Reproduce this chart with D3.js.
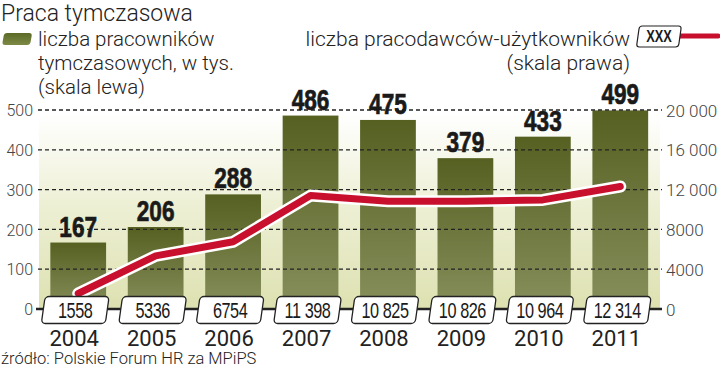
<!DOCTYPE html>
<html><head><meta charset="utf-8">
<script src="https://cdn.jsdelivr.net/npm/d3@7"></script>
<style>
html,body{margin:0;padding:0;background:#fff;}
text{font-family:Roboto,"Open Sans",sans-serif;}
</style></head>
<body><svg id="c" width="720" height="371"></svg>
<script>
const years = ["2004","2005","2006","2007","2008","2009","2010","2011"];
const workers = [167,206,288,486,475,379,433,499];
const employers = [1558,5336,6754,11398,10825,10826,10964,12314];
const employerLabels = ["1558","5336","6754","11 398","10 825","10 826","10 964","12 314"];
const leftTicks = [0,100,200,300,400,500];
const rightTicks = [0,4000,8000,12000,16000,20000];
const rightTickLabels = ["0","4000","8000","12 000","16 000","20 000"];

const svg = d3.select("#c");
const x = d3.scaleBand().domain(years).range([39.5, 659]).paddingInner(0.28).paddingOuter(0.14);
const yL = d3.scaleLinear().domain([0,500]).range([309,110]);
const yR = d3.scaleLinear().domain([0,20000]).range([309,110]);
const cx = d => x(d)+x.bandwidth()/2;

const defs = svg.append("defs");
const bg = defs.append("linearGradient").attr("id","bg").attr("x1",0).attr("y1",1).attr("x2",0).attr("y2",0);
bg.append("stop").attr("offset","0").attr("stop-color","#dde1b0");
bg.append("stop").attr("offset","0.55").attr("stop-color","#eef0d6");
bg.append("stop").attr("offset","1").attr("stop-color","#ffffff");
const bar = defs.append("linearGradient").attr("id","bar").attr("x1",0).attr("y1",1).attr("x2",0).attr("y2",0);
bar.append("stop").attr("offset","0").attr("stop-color","#878f5c");
bar.append("stop").attr("offset","1").attr("stop-color","#566021");
const sw = defs.append("linearGradient").attr("id","sw").attr("x1",0).attr("y1",1).attr("x2",0).attr("y2",0);
sw.append("stop").attr("offset","0").attr("stop-color","#7d8a45");
sw.append("stop").attr("offset","1").attr("stop-color","#5b6a28");

// background
svg.append("rect").attr("x",39).attr("y",yL(490)).attr("width",621).attr("height",yL(0)-yL(490))
  .attr("fill","url(#bg)");

// bars
svg.selectAll(".bar").data(workers).enter().append("rect")
  .attr("x",(d,i)=>x(years[i])).attr("width",x.bandwidth())
  .attr("y",d=>yL(d)).attr("height",d=>yL(0)-yL(d)).attr("fill","url(#bar)");

// gridlines
svg.selectAll(".grid").data(leftTicks.slice(1)).enter().append("line")
  .attr("x1",38).attr("x2",662).attr("y1",d=>yL(d)).attr("y2",d=>yL(d))
  .attr("stroke","#222").attr("stroke-width",1.3).attr("stroke-dasharray","4,3");

// value labels (condensed bold)
svg.selectAll(".vl").data(workers).enter().append("text")
  .attr("transform",(d,i)=>`translate(${cx(years[i])},${yL(d)-6}) scale(0.78,1)`)
  .attr("text-anchor","middle").style("font-family","'Liberation Sans',Arial,sans-serif")
  .style("font-weight","bold").style("font-size","29px").attr("fill","#1a1a1a")
  .attr("stroke","#1a1a1a").attr("stroke-width",0.7).text(d=>d);

// line
const line = d3.line().x((d,i)=>cx(years[i])).y(d=>yR(d));
svg.append("path").datum(employers).attr("d",line).attr("fill","none")
  .attr("stroke","#fff").attr("stroke-width",12).attr("stroke-linejoin","round").attr("stroke-linecap","round");
svg.append("path").datum(employers).attr("d",line).attr("fill","none")
  .attr("stroke","#c8102e").attr("stroke-width",7).attr("stroke-linejoin","round").attr("stroke-linecap","round");

// baseline
svg.append("line").attr("x1",36).attr("x2",662).attr("y1",yL(0)).attr("y2",yL(0))
  .attr("stroke","#222").attr("stroke-width",2.5);

// axis labels
const axL = d3.axisLeft(yL).tickValues(leftTicks).tickSize(0).tickPadding(0);
const gL = svg.append("g").attr("transform","translate(33,0)").call(axL);
gL.select(".domain").remove();
gL.selectAll("text").style("font-family","Roboto,sans-serif").style("font-weight","300")
  .style("font-size","16px").attr("fill","#444").attr("dy","0.36em");
const axR = d3.axisRight(yR).tickValues(rightTicks).tickSize(0).tickPadding(0)
  .tickFormat((d,i)=>rightTickLabels[i]);
const gR = svg.append("g").attr("transform","translate(666,0)").call(axR);
gR.select(".domain").remove();
gR.selectAll("text").style("font-family","Roboto,sans-serif").style("font-weight","300")
  .style("font-size","17px").attr("fill","#444").attr("dy","0.36em");

// value boxes
const bw = 64, bh = 27;
const boxes = svg.selectAll(".box").data(employerLabels).enter().append("g")
  .attr("transform",(d,i)=>`translate(${cx(years[i])-3},${yL(0)+1})`);
boxes.append("rect").attr("x",-bw/2).attr("y",-bh/2).attr("width",bw).attr("height",bh)
  .attr("rx",4).attr("fill","#fff").attr("stroke","#222").attr("stroke-width",1.3)
  .attr("transform","skewX(-8)");
boxes.append("text").attr("transform","translate(0,8) scale(0.74,1)").attr("text-anchor","middle")
  .style("font-family","'Liberation Sans',Arial,sans-serif").style("font-size","22px")
  .style("letter-spacing","-0.6px").attr("fill","#1a1a1a").text(d=>d);

// year labels
svg.selectAll(".yr").data(years).enter().append("text")
  .attr("x",d=>cx(d)-4).attr("y",346).attr("text-anchor","middle")
  .style("font-size","22px").attr("fill","#222").text(d=>d);

// title & legend
const T = (t,xx,yy,anchor,size,w) => svg.append("text").attr("x",xx).attr("y",yy)
  .attr("text-anchor",anchor||"start").style("font-size",(size||20.5)+"px")
  .style("font-weight",w||"300").attr("fill","#222").text(t);
T("Praca tymczasowa",1,21,"start",23);
svg.append("rect").attr("x",4).attr("y",33).attr("width",28).attr("height",12).attr("rx",3)
  .attr("fill","url(#sw)").attr("transform","skewX(-10) translate(6,0)");
T("liczba pracowników",38,46);
T("tymczasowych, w tys.",38,70);
T("(skala lewa)",38,94);
T("liczba pracodawców-użytkowników",630,46,"end",21);
T("(skala prawa)",630,70,"end",21);
svg.append("line").attr("x1",680).attr("x2",718).attr("y1",36).attr("y2",36)
  .attr("stroke","#c8102e").attr("stroke-width",5).attr("stroke-linecap","round");
const lg = svg.append("g").attr("transform","translate(659,36)");
lg.append("rect").attr("x",-21).attr("y",-10).attr("width",42).attr("height",21).attr("rx",3)
  .attr("fill","#fff").attr("stroke","#222").attr("stroke-width",1.2).attr("transform","skewX(-8)");
lg.append("text").attr("transform","translate(0,6) scale(0.8,1)").attr("text-anchor","middle")
  .style("font-family","'Liberation Sans',Arial,sans-serif").style("font-weight","bold")
  .style("font-size","16px").attr("fill","#1a1a1a").text("XXX");
T("źródło: Polskie Forum HR za MPiPS",1,364,"start",16.5);
</script></body></html>
